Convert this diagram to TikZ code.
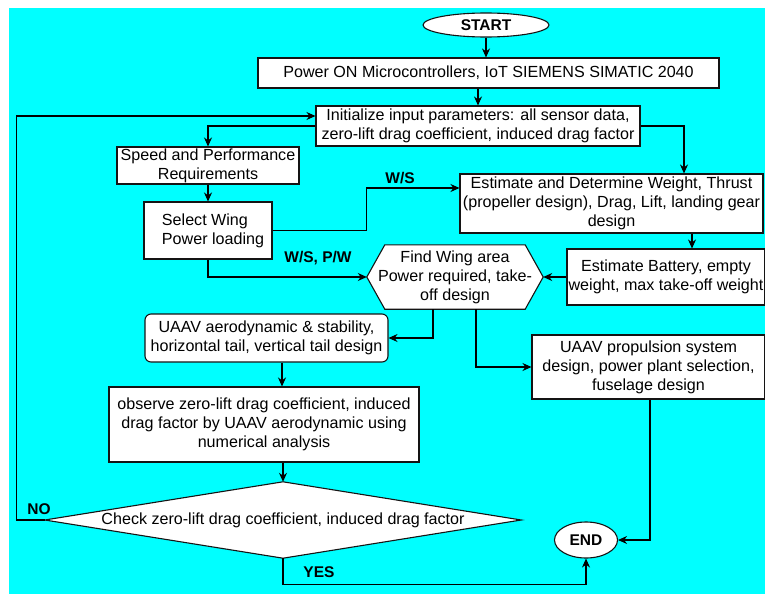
\documentclass[tikz,border=0pt]{standalone}
\usepackage{fontspec}
\setmainfont{Liberation Sans}
\usetikzlibrary{arrows.meta,shapes.geometric,calc}
\definecolor{bgcyan}{RGB}{0,255,255}
\definecolor{linec}{RGB}{20,20,20}
\begin{document}
\begin{tikzpicture}[x=1pt,y=-1pt,
  every node/.style={font=\fontsize{16.1}{19}\selectfont, text=black},
  box/.style={draw=linec, fill=white, line width=1.1pt, align=center, inner sep=1pt, rectangle},
  ghost/.style={draw=none, align=center, inner sep=1pt, rectangle},
  term/.style={draw=linec, fill=white, line width=1.1pt, ellipse, inner sep=0pt, font=\fontsize{15.5}{18}\selectfont\bfseries},
  lbl/.style={font=\fontsize{15.5}{18}\selectfont\bfseries, inner sep=0pt},
  arr/.style={draw=black, line width=1.1pt, -{Stealth[length=9pt,width=8pt]}}
]
\useasboundingbox (0,0) rectangle (765,594);
\fill[bgcyan] (9,8) rectangle (765,594);

% nodes
\node[term, minimum width=126pt, minimum height=24pt] (start) at (486,25) {START};
\node[box, minimum width=461pt, minimum height=30pt] (power) at (488.5,73) {Power ON Microcontrollers, IoT SIEMENS SIMATIC 2040};
\node[box, minimum width=324pt, minimum height=40pt] (init) at (478,126) {Initialize input parameters: all sensor data,\\zero-lift drag coefficient, induced drag factor};
\node[box, minimum width=182pt, minimum height=37pt] (speed) at (208,165.5) {Speed and Performance\\Requirements};
\node[box, minimum width=128pt, minimum height=57pt, align=left] (select) at (208,230.5) {\hspace*{10pt}Select Wing\\\hspace*{10pt}Power loading};
\node[box, minimum width=303pt, minimum height=59pt] (est) at (611.5,203.5) {Estimate and Determine Weight, Thrust\\(propeller design), Drag, Lift, landing gear\\design};
\node[box, minimum width=198pt, minimum height=56pt] (bat) at (666,277) {Estimate Battery, empty\\weight, max take-off weight};
\node[ghost, minimum width=176pt, minimum height=64pt] (hex) at (455,277) {};
\fill[white, draw=linec, line width=1.1pt] (hex.west) -- ([xshift=18pt]hex.north west) -- ([xshift=-18pt]hex.north east) -- (hex.east) -- ([xshift=-18pt]hex.south east) -- ([xshift=18pt]hex.south west) -- cycle;
\node[ghost] (hextext) at (hex.center) {Find Wing area\\Power required, take-\\off design};
\node[box, rounded corners=6pt, minimum width=243pt, minimum height=48pt] (aero) at (266.5,338) {UAAV aerodynamic \& stability,\\horizontal tail, vertical tail design};
\node[box, minimum width=233pt, minimum height=64pt] (prop) at (648.5,367) {UAAV propulsion system\\design, power plant selection,\\fuselage design};
\node[box, minimum width=310pt, minimum height=75pt] (obs) at (264,424.5) {observe zero-lift drag coefficient, induced\\drag factor by UAAV aerodynamic using\\numerical analysis};
\node[ghost, minimum width=476pt, minimum height=76pt] (dia) at (283,520) {};
\fill[white, draw=linec, line width=1.1pt] (dia.west) -- (dia.north) -- (dia.east) -- (dia.south) -- cycle;
\node[ghost] (diatext) at (dia.center) {Check zero-lift drag coefficient, induced drag factor};
\node[term, minimum width=63pt, minimum height=36pt] (end) at (586,540) {END};

% connectors
\draw[arr] (start.south) -- (start.south |- power.north);
\draw[arr] (init.north |- power.south) -- (init.north);
\draw[arr] (init.west) -| (speed.north);
\draw[arr] (init.east) -| ([xshift=72.5pt]est.north);
\draw[arr] (speed.south) -- (select.north);
\draw[arr] (select.east) -- ++(94,0) |- ([yshift=15.5pt]est.west);
\draw[arr] (select.south) |- (hex.west);
\draw[arr] ([xshift=80.5pt]est.south) -- ([xshift=80.5pt]est.south |- bat.north);
\draw[arr] (bat.west) -- (hex.east);
\draw[arr] ([xshift=-22pt]hex.south) |- (aero.east);
\draw[arr] ([xshift=21pt]hex.south) |- (prop.west);
\draw[arr] ([xshift=15.5pt]aero.south) -- ([xshift=15.5pt]aero.south |- obs.north);
\draw[arr] (dia.north |- obs.south) -- (dia.north);
\draw[arr] (dia.west) -- ++(-28,0) |- ([yshift=10pt]init.west);
\draw[arr] (dia.south) -- ++(0,26) -| (end.south);
\draw[arr] ([xshift=1.5pt]prop.south) |- (end.east);

% labels
\node[lbl] (lws) at (400,178) {W/S};
\node[lbl] (lwspw) at (318,258) {W/S, P/W};
\node[lbl] (lno) at (39,509) {NO};
\node[lbl] (lyes) at (319,572) {YES};
\end{tikzpicture}
\end{document}
